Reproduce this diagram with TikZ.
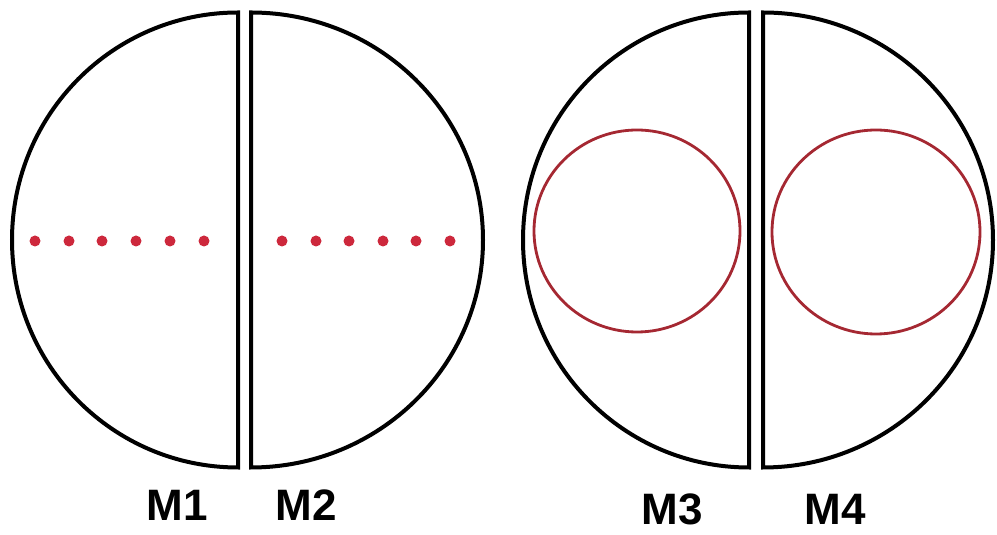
\documentclass[tikz,border=0pt]{standalone}
\usepackage{fontspec}
\setmainfont{Liberation Sans}
\usetikzlibrary{positioning}
\definecolor{dotcolor}{RGB}{205, 40, 60}
\definecolor{ringcolor}{RGB}{165, 40, 50}
\tikzset{
	half/.style={draw=black, line width=2pt},
	spot/.style={circle, fill=dotcolor, inner sep=0pt, minimum size=5.5pt},
	ring/.style={draw=ringcolor, line width=1.4pt},
	mlabel/.style={font=\fontsize{22}{26}\selectfont\bfseries, inner sep=0pt}
}
\begin{document}
\begin{tikzpicture}[x=0.5pt, y=0.5pt]
	\useasboundingbox (0,0) rectangle (997,535);

	% Halves
	\draw[half] (238,522.5) arc[start angle=90, end angle=270, x radius=226, y radius=227.5] -- cycle;
	\draw[half] (251,67.5) arc[start angle=-90, end angle=90, x radius=232, y radius=227.5] -- cycle;
	\draw[half] (749,522.5) arc[start angle=90, end angle=270, x radius=226, y radius=227.5] -- cycle;
	\draw[half] (763,67.5) arc[start angle=-90, end angle=90, x radius=230, y radius=227.5] -- cycle;

	% Dots
	\foreach \x [count=\i] in {35,69,102,136,170,204}
		\node[spot] (dotA\i) at (\x,294) {};
	\foreach \x [count=\i] in {282,316,349,383,416,450}
		\node[spot] (dotB\i) at (\x,294) {};

	% Rings
	\draw[ring] (637,304) ellipse [x radius=103, y radius=101];
	\draw[ring] (876,303) ellipse [x radius=104, y radius=102];

	% Labels
	\node[mlabel] (M1) at (177,30) {M1};
	\node[mlabel] (M2) at (306,30) {M2};
	\node[mlabel] (M3) at (672,26) {M3};
	\node[mlabel] (M4) at (835,26) {M4};

\end{tikzpicture}
\end{document}
